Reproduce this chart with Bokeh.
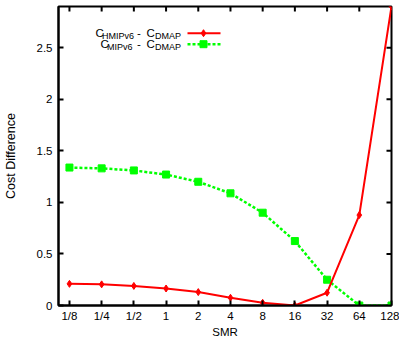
from bokeh.plotting import figure
from bokeh.models import Range1d, FixedTicker, Label
from bokeh.embed import file_html
from bokeh.resources import INLINE

smr_labels = ["1/8", "1/4", "1/2", "1", "2", "4", "8", "16", "32", "64", "128"]
hmipv6_diff = [0.21, 0.205, 0.19, 0.165, 0.13, 0.075, 0.026, 0.0, 0.124, 0.877, 2.9]
mipv6_diff = [1.338, 1.33, 1.31, 1.27, 1.20, 1.088, 0.90, 0.625, 0.25, 0.0, 0.0]
y_ticks = [0, 0.5, 1, 1.5, 2, 2.5]

FONT = "Liberation Sans"
X0, X1 = -0.34, 10.0
Y0, Y1 = 0.0, 2.9
W, H = 399, 345
ML, MR, MT, MB = 58, 8, 6, 40

xs = list(range(len(smr_labels)))

p = figure(width=W, height=H, output_backend="svg", toolbar_location=None,
           x_range=Range1d(X0, X1), y_range=Range1d(Y0, Y1),
           min_border_left=ML, min_border_right=MR, min_border_top=MT, min_border_bottom=MB,
           x_axis_label="SMR", y_axis_label="Cost Difference")
p.grid.visible = False
p.outline_line_color = "black"
p.outline_line_width = 2
p.background_fill_color = "white"
p.border_fill_color = "white"

p.xaxis.ticker = FixedTicker(ticks=xs)
p.yaxis.ticker = FixedTicker(ticks=y_ticks)
p.xaxis.major_label_overrides = {i: s for i, s in enumerate(smr_labels)}
p.yaxis.major_label_overrides = {0: "0", 0.5: "0.5", 1: "1", 1.5: "1.5", 2: "2", 2.5: "2.5"}

for ax in (p.xaxis[0], p.yaxis[0]):
    ax.major_tick_in = 5
    ax.major_tick_out = 0
    ax.minor_tick_line_color = None
    ax.major_tick_line_width = 2
    ax.axis_line_width = 2
    ax.major_label_text_font = FONT
    ax.major_label_text_font_size = "11.5px"
    ax.major_label_text_color = "black"
    ax.axis_label_text_font = FONT
    ax.axis_label_text_font_size = "11.5px"
    ax.axis_label_text_font_style = "normal"
    ax.axis_label_text_color = "black"
p.yaxis.axis_label_text_font_size = "12.5px"
p.xaxis.major_label_standoff = 4
p.xaxis.axis_label_standoff = 1
p.yaxis.major_label_standoff = 6
p.yaxis.axis_label_standoff = 16

# pixel -> data helpers (for tick mirrors and the legend box)
def px(x):
    return X0 + (x - ML) / (W - ML - MR) * (X1 - X0)

def py(y):
    return Y1 - (y - MT) / (H - MT - MB) * (Y1 - Y0)

tick_dx = px(ML + 5) - X0
tick_dy = Y1 - py(MT + 5)

# mirrored ticks on the top and right edges
p.segment(x0=xs, y0=[Y1] * len(xs), x1=xs, y1=[Y1 - tick_dy] * len(xs),
          line_color="black", line_width=2)
p.segment(x0=[X1] * len(y_ticks), y0=y_ticks, x1=[X1 - tick_dx] * len(y_ticks), y1=y_ticks,
          line_color="black", line_width=2)

# data series
p.line(xs, mipv6_diff, line_color="#00ff00", line_width=2.5, line_dash="3 2")
p.scatter(xs, mipv6_diff, marker="square", size=7, fill_color="#00ff00", line_color="#00ff00")
p.line(xs, hmipv6_diff, line_color="#ff0000", line_width=2)
p.scatter(xs, hmipv6_diff, marker="diamond", size=7, fill_color="#ff0000", line_color="#ff0000")

# legend
rows = [
    [("C", 95, 32.5, "11.5px"), ("HMIPv6", 101.5, 35.5, "9px"), ("-", 136.5, 32.5, "11.5px"),
     ("C", 146, 32.5, "11.5px"), ("DMAP", 154.5, 35.5, "9px")],
    [("C", 100, 43.5, "11.5px"), ("MIPv6", 106.5, 46.5, "9px"), ("-", 136.5, 43.5, "11.5px"),
     ("C", 146, 43.5, "11.5px"), ("DMAP", 154.5, 46.5, "9px")],
]
for row in rows:
    for t, x, y, fs in row:
        p.add_layout(Label(x=px(x), y=py(y), text=t, text_font=FONT, text_font_size=fs,
                           text_baseline="middle", text_align="left", text_color="black"))

p.line([px(187), px(220)], [py(32.7), py(32.7)], line_color="#ff0000", line_width=2)
p.scatter([px(203)], [py(32.7)], marker="diamond", size=7, fill_color="#ff0000", line_color="#ff0000")
p.line([px(187), px(220)], [py(43.7), py(43.7)], line_color="#00ff00", line_width=2.5, line_dash="3 2")
p.scatter([px(203)], [py(43.7)], marker="square", size=7, fill_color="#00ff00", line_color="#00ff00")

open("out.html", "w").write(file_html(p, INLINE))
